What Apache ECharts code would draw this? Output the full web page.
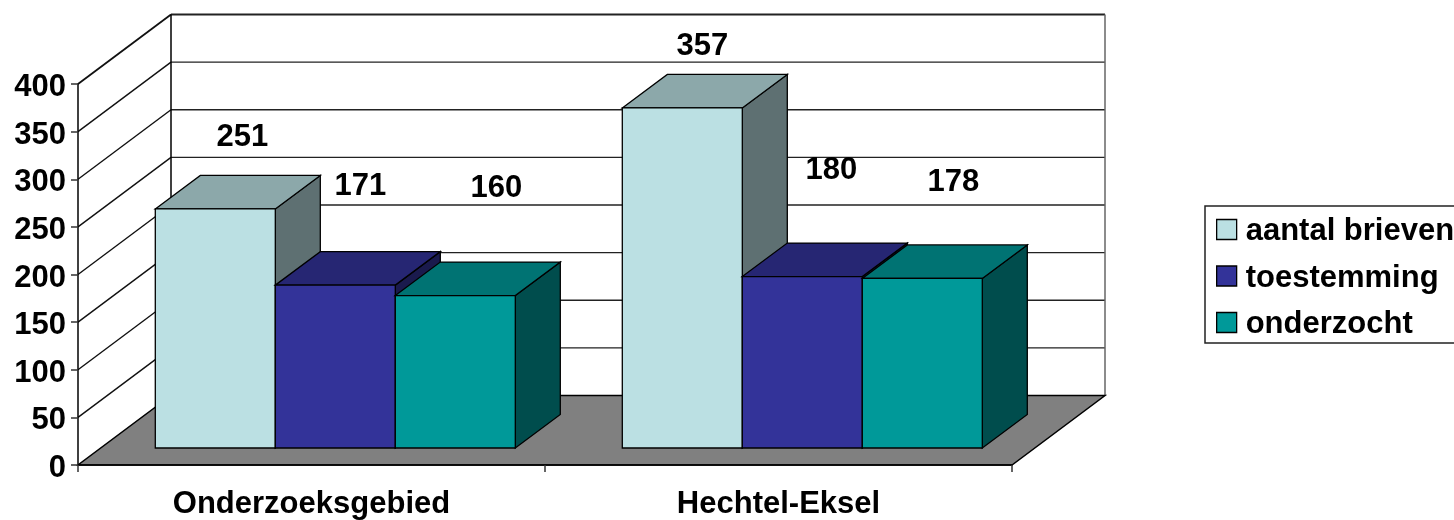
<!DOCTYPE html>
<html><head><meta charset="utf-8">
<style>html,body{margin:0;padding:0;background:#fff;overflow:hidden}#c{width:1454px;height:520px}</style>
<script src="https://cdn.jsdelivr.net/npm/echarts@6/dist/echarts.min.js"></script>
</head><body><div id="c"></div>
<script>
const categories = ['Onderzoeksgebied', 'Hechtel-Eksel'];
const aantalBrieven = [251, 357];
const toestemming = [171, 180];
const onderzocht = [160, 178];
const seriesNames = ['aantal brieven', 'toestemming', 'onderzocht'];
const yTickValues = [0, 50, 100, 150, 200, 250, 300, 350, 400];

// oblique projection (pixels)
const WALL = [93, -69.5], FRONT = [23.8, -17], DEPTH = [45, -33.5], BAR_FRACTION = 120 / 467;
const FONT = 'Liberation Sans';
const FONT_SIZE = 31;
const palettes = [
  { front: '#BBE0E3', top: '#8CA8AA', side: '#5E7072' },
  { front: '#333399', top: '#262673', side: '#1A1A4D' },
  { front: '#009999', top: '#007373', side: '#004D4D' }
];
// hand placement of the value labels relative to the top of each bar's front face
const labelNudge = [
  [[27, -71], [25, -99], [41, -107]],
  [[20, -62], [29, -106], [31, -96]]
];

const poly = (points, fill, stroke, lw) => ({
  type: 'polygon', shape: { points },
  style: { fill, stroke: stroke || '#000', lineWidth: lw || 1.3 }
});
const seg = (a, b, stroke, lw) => ({
  type: 'line', shape: { x1: a[0], y1: a[1], x2: b[0], y2: b[1] },
  style: { stroke: stroke || '#111', lineWidth: lw || 1.4 }
});

function renderWalls(params, api) {
  const size = api.size([1, 0])[0];
  const x0 = api.coord([0, 0])[0] - size / 2;
  const x1 = x0 + size * categories.length;
  const children = [];
  const back = (x, y) => [x + WALL[0], y + WALL[1]];
  yTickValues.forEach(v => {
    const y = api.coord([0, v])[1];
    if (v === 0) return;
    const isTop = v === yTickValues[yTickValues.length - 1];
    children.push(seg([x0, y], back(x0, y), '#111', isTop ? 1.8 : 1.4));
    children.push(seg(back(x0, y), back(x1, y), '#222', isTop ? 1.8 : 1.4));
  });
  const yB = api.coord([0, 0])[1];
  const yT = api.coord([0, yTickValues[yTickValues.length - 1]])[1];
  children.push(seg(back(x0, yT), back(x0, yB), '#000', 1.5));
  children.push(seg(back(x1, yT), back(x1, yB), '#666', 1.5));
  children.push(poly([[x0, yB], [x1, yB], back(x1, yB), back(x0, yB)], '#808080', '#000', 1.5));
  return { type: 'group', children };
}

const makeRender = (sIdx) => (params, api) => {
  const cat = api.value(0), val = api.value(1);
  const band = api.size([1, 0])[0];
  const w = band * BAR_FRACTION;
  const base = api.coord([cat, 0]), peak = api.coord([cat, val]);
  const xL = base[0] + FRONT[0] + (sIdx - 1.5) * w;
  const xR = xL + w;
  const yB = base[1] + FRONT[1], yT = peak[1] + FRONT[1];
  const p = palettes[sIdx];
  const d = DEPTH;
  const nudge = labelNudge[cat][sIdx];
  return { type: 'group', children: [
    poly([[xR, yT], [xR + d[0], yT + d[1]], [xR + d[0], yB + d[1]], [xR, yB]], p.side),
    poly([[xL, yT], [xL + d[0], yT + d[1]], [xR + d[0], yT + d[1]], [xR, yT]], p.top),
    poly([[xL, yT], [xR, yT], [xR, yB], [xL, yB]], p.front),
    { type: 'text', z2: 50, style: {
        x: (xL + xR) / 2 + nudge[0], y: yT + nudge[1], text: String(val),
        font: 'bold ' + FONT_SIZE + 'px "' + FONT + '"', fill: '#000', align: 'center', verticalAlign: 'middle' } }
  ] };
};

const valueLists = [aantalBrieven, toestemming, onderzocht];
const chart = echarts.init(document.getElementById('c'), null, { renderer: 'canvas' });
chart.setOption({
  animation: false,
  backgroundColor: '#fff',
  textStyle: { fontFamily: FONT },
  grid: { left: 78, top: 84, width: 934, height: 381, containLabel: false },
  legend: {
    orient: 'vertical', left: 1205, top: 206, data: seriesNames, icon: 'rect',
    itemWidth: 20, itemHeight: 20, itemGap: 15.5, padding: [10, 20, 3, 11],
    borderColor: '#222', borderWidth: 1.5, backgroundColor: '#fff',
    selectedMode: false,
    itemStyle: { borderColor: '#000', borderWidth: 1.3 },
    formatter: '{t|{name}}',
    textStyle: { fontFamily: FONT, fontWeight: 'bold', fontSize: FONT_SIZE, color: '#000',
      rich: { t: { fontFamily: FONT, fontWeight: 'bold', fontSize: FONT_SIZE, color: '#000', padding: [4, 0, 0, 4] } } }
  },
  xAxis: {
    type: 'category', data: categories,
    axisLine: { show: true, lineStyle: { color: '#000', width: 1.5 } },
    axisTick: { show: true, length: 7, lineStyle: { color: '#333', width: 1.5 } },
    axisLabel: { fontFamily: FONT, fontWeight: 'bold', fontSize: FONT_SIZE, color: '#000', margin: 24 },
    splitLine: { show: false }, z: 20
  },
  yAxis: {
    type: 'value', min: 0, max: 400, interval: 50,
    axisLine: { show: true, lineStyle: { color: '#000', width: 1.5 } },
    axisTick: { show: true, length: 7, lineStyle: { color: '#333', width: 1.5 } },
    axisLabel: { fontFamily: FONT, fontWeight: 'bold', fontSize: FONT_SIZE, color: '#000', margin: 12,
      formatter: '{n|{value}}', rich: { n: { fontFamily: FONT, fontWeight: 'bold', fontSize: FONT_SIZE, color: '#000', padding: [7, 0, 0, 0] } } },
    splitLine: { show: false }, z: 20
  },
  series: [
    { name: 'walls', type: 'custom', renderItem: renderWalls, data: [[0, 0]], silent: true, clip: false, z: 1, encode: { x: 0, y: 1 } }
  ].concat(seriesNames.map((name, i) => ({
    name, type: 'custom', renderItem: makeRender(i), clip: false, z: 2 + i, silent: true,
    itemStyle: { color: palettes[i].front },
    encode: { x: 0, y: 1 },
    data: categories.map((c, j) => [j, valueLists[i][j]])
  })))
});
</script></body></html>
